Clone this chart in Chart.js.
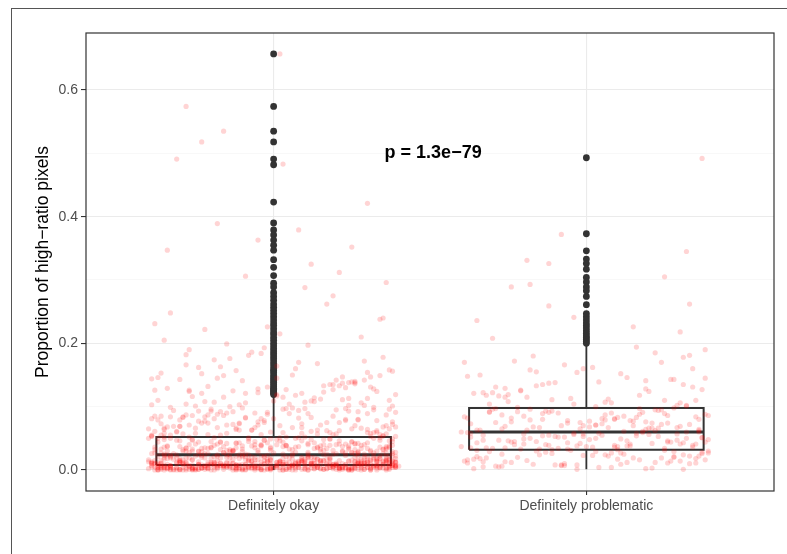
<!DOCTYPE html>
<html>
<head>
<meta charset="utf-8">
<script src="https://cdn.jsdelivr.net/npm/chart.js@4/dist/chart.umd.min.js"></script>
<style>
    html, body { margin: 0; padding: 0; background: #fff; }
    #wrap { position: relative; width: 787px; height: 554px; overflow: hidden; }
    #frame { position: absolute; left: 11px; top: 8px; right: -2px; bottom: -2px; border-left: 1px solid #555; border-top: 1px solid #555; }
    canvas { position: absolute; left: 0; top: 0; }
</style>
</head>
<body>
<div id="wrap">
    <div id="frame"></div>
    <canvas id="grafico" width="787" height="554"></canvas>
</div>
<script>
const categorias = ['Definitely okay', 'Definitely problematic'];

const yTicks = [0, 0.1, 0.2, 0.3, 0.4, 0.5, 0.6];
const yTickLabels = ['0.0', '', '0.2', '', '0.4', '', '0.6'];

// box stats per category
const boxQ1 = [0.008, 0.032];
const boxMediana = [0.024, 0.060];
const boxQ3 = [0.052, 0.098];
const whiskerMin = [0.000, 0.001];
const whiskerMax = [0.117, 0.197];

const okayOutliers = [0.657, 0.574, 0.535, 0.518, 0.491, 0.482, 0.423, 0.390, 0.379, 0.371, 0.363, 0.355, 0.347, 0.332, 0.320, 0.307, 0.295, 0.289, 0.280, 0.274, 0.268, 0.262, 0.257, 0.252, 0.247, 0.242, 0.237, 0.232, 0.228, 0.223, 0.218, 0.214, 0.209, 0.205, 0.200, 0.196, 0.192, 0.188, 0.184, 0.180, 0.176, 0.172, 0.168, 0.164, 0.160, 0.157, 0.154, 0.150, 0.147, 0.144, 0.141, 0.138, 0.135, 0.132, 0.129, 0.127, 0.125, 0.123, 0.121, 0.119];
const problematicOutliers = [0.493, 0.373, 0.346, 0.333, 0.326, 0.317, 0.304, 0.297, 0.289, 0.283, 0.274, 0.261, 0.247, 0.242, 0.237, 0.232, 0.228, 0.224, 0.220, 0.216, 0.212, 0.209, 0.206, 0.203, 0.200];

// jittered points: values in thousandths, horizontal jitter in hundredths of a category
const okayJitterY = [
    0,3,1,6,2,8,4,0,7,5,1,3,6,2,0,8,4,7,1,5,
    2,6,0,4,8,3,1,7,5,2,0,6,3,8,1,4,7,2,5,0,
    4,1,7,3,6,0,8,2,5,1,3,7,0,6,4,2,8,5,1,3,
    6,0,2,5,7,1,4,8,3,0,6,2,7,4,1,5,3,8,0,2,
    7,4,1,6,3,0,5,8,2,4,1,7,3,6,0,5,2,8,4,1,
    3,5,0,7,2,6,1,4,8,3,
    9,15,11,22,13,18,10,24,16,12,20,9,14,23,17,11,19,8,21,13,
    16,10,22,14,19,12,24,9,17,11,20,15,23,10,18,13,21,8,16,12,
    14,19,9,23,11,17,22,13,20,10,15,24,12,18,9,21,14,16,11,19,
    22,8,17,13,20,10,15,23,12,18,9,14,21,11,16,24,13,19,10,17,
    20,12,15,9,22,14,18,11,23,16,13,19,10,21,8,17,12,24,15,11,
    27,41,33,49,25,38,45,30,52,36,28,43,34,47,26,39,31,50,44,29,
    35,48,26,40,32,51,37,29,46,33,42,25,38,49,30,44,36,27,41,34,
    50,28,39,45,31,26,47,35,42,29,51,33,38,25,44,30,48,36,40,27,
    32,46,29,37,43,26,50,34,41,28,39,47,31,35,45,27,52,33,40,30,
    43,36,25,48,32,38,29,46,35,42,26,51,37,30,44,28,40,34,49,31,
    55,78,63,96,58,84,71,110,66,89,60,102,75,57,93,68,115,81,62,99,
    73,54,87,65,106,79,59,92,70,113,83,61,97,76,56,88,67,104,80,64,
    91,72,58,108,77,95,63,85,69,117,74,57,100,82,66,94,60,111,86,71,
    53,98,68,89,62,107,78,56,93,73,65,103,84,59,96,70,114,81,64,90,
    75,58,101,67,87,61,109,79,55,97,
    122,135,128,146,160,125,139,152,178,131,143,168,121,156,190,137,149,127,172,205,
    133,162,141,119,184,154,129,197,145,138,215,166,124,176,150,231,142,186,158,132,
    248,170,136,199,153,262,181,147,222,164,126,240,193,275,157,210,144,288,174,238,
    130,226,163,296,182,
    657,574,535,518,491,483,379,363,312,347,325,389,421,306,352,
    5,0,10,2,7,12,1,4,9,3,11,6,0,8,2,10,5,1,12,7,
    3,9,0,6,11,4,1,8,2,10,7,0,5,12,3,9,1,6,4,11,
    8,2,0,10,5,7,1,12,3,6,9,0,4,11,2,8,5,1,10,7,
    6,3,12,0,9,4,2,8,11,1,5,10,3,7,0,6,12,2,9,4,
    18,33,14,27,39,21,16,35,25,12,30,19,37,23,15,28,40,20,32,13,
    26,38,17,31,22,14,36,24,29,12,34,18,27,39,16,21,33,25,13,30,
    19,37,23,15,35,28,20,32,14,26,40,17,31,22,38,24,29,16,34,21
];
const okayJitterX = [
    -12,33,-37,5,21,-28,14,-3,38,-19,27,-8,-33,10,36,-24,1,-15,29,-39,
    17,-6,31,-26,8,-35,24,-11,39,-21,3,19,-31,12,-2,34,-17,26,-9,-38,
    22,-30,6,37,-14,28,-4,15,-36,9,-23,32,-1,-27,18,-10,35,-33,4,25,
    -16,11,-40,30,-7,20,-25,38,0,-20,13,-34,27,-5,16,-29,7,33,-13,23,
    -36,2,29,-18,36,-9,-31,14,-2,24,-22,39,-12,6,-37,19,-26,31,-4,10,
    35,-15,-28,21,-1,40,-33,8,-19,26,-7,15,-38,34,-24,3,22,-11,37,-30,
    9,-21,28,-35,17,-6,32,-16,4,-39,25,-13,11,36,-27,1,-8,30,-32,18,
    -3,38,-23,12,-34,27,-10,20,-29,5,33,-17,-1,23,-36,14,-25,39,-6,7,
    31,-14,2,-30,19,-37,26,-5,13,-22,37,-12,-35,8,29,-19,16,-2,-28,34,
    -9,24,-33,10,36,-24,-4,18,-39,28,-15,3,21,-29,39,-7,-20,12,32,-26,
    15,-1,-36,27,-11,6,33,-18,-30,20,0,-25,35,-8,11,-34,25,-14,4,37,
    -27,13,30,-3,-21,38,-13,7,-37,22,-6,16,-32,29,-17,2,36,-23,9,-10,
    26,-35,-7,18,-26,3,34,-16,23,-1,-40,11,28,-20,-5,38,-31,14,-12,31,
    -19,5,37,-9,25,-28,12,-38,1,32,-14,21,-24,8,-2,35,-33,17,-18,27,
    4,-26,19,-12,38,-36,10,24,-6,-29,30,-20,6,-35,26,-4,15,-30,36,-15,
    20,-8,-34,33,-17,7,-27,28,-1,16,-39,23,-11,3,31,-22,-5,37,-25,11,
    -31,29,-3,14,-24,39,-16,0,21,-33,9,35,-21,25,-9,-37,18,-13,2,30,
    12,-38,23,-5,34,-18,6,-28,27,-12,-2,38,-35,13,-22,32,-7,19,-30,1,
    -23,36,-14,8,28,-32,-1,22,-26,15,39,-10,-34,5,17,-19,33,-4,24,-36,
    37,-11,-29,3,-20,26,13,-39,30,-6,21,-15,-25,9,36,-31,0,27,-17,10,
    -5,18,32,-37,7,-13,25,-23,35,-2,-30,14,-9,38,-27,22,-16,4,29,-35,
    16,-24,-10,39,-4,30,-34,11,-18,24,2,-28,33,-14,6,-38,20,-7,37,-21,
    -33,8,26,-15,-36,17,-8,31,-22,1,-27,35,-3,19,-12,28,-39,10,-19,34,
    23,-2,-17,36,-28,2,-28,-16,-23,-31,3,8,-5,21,-34,12,-18,30,-9,25,
    14,-32,27,-7,38,-21,4,-37,19,-13,31,-2,-26,10,36,-17,22,-30,1,29,
    -11,35,-25,7,-39,18,-4,28,-18,12,-33,24,-8,39,-23,3,16,-35,30,-14,
    26,-1,-29,13,34,-16,-36,9,21,-27,37,-6,5,-31,17,-20,32,-10,-38,20,
    -6,31,-19,2,25,-34,15,-12,38,-24,8,-3,28,-37,11,33,-15,-28,23,0,
    36,-26,10,-38,18,-9,29,-22,3,34,-13,-33,22,6,-18,39,-4,13,-29,26,
    -22,4,33,-15,-3,27,-35,16,-10,37,-28,9,25,-19,-1,30,-36,19,7,-24,
    11,-16,38,-30,24,-5,-23,35,2,-39,20,-8,31,-12,15,-34,27,-1,-21,36
];
const okayExtraY = [
    1,14,6,19,3,11,0,17,8,13,4,20,2,9,16,5,12,0,18,7,
    10,3,15,1,19,6,13,0,8,17,4,11,2,20,9,14,5,16,0,12,
    7,18,3,10,1,15,6,19,2,13,8,0,16,4,11,20,5,9,14,1,
    17,6,12,0,19,3,10,15,7,2,18,8,13,4,0,11,16,6,20,9,
    2,14,5,17,0,12,8,19,3,15,10,1,13,6,18,4,9,16,7,11,
    22,47,35,58,28,41,53,25,38,50,31,44,57,23,36,49,29,42,55,33,
    46,21,39,52,27,45,59,32,40,24,54,37,48,26,43,56,30,51,34,60,
    23,41,55,29,47,36,58,25,44,32,50,38,21,53,35,46,27,57,40,31,
    49,24,42,56,33,45,28,52,37,22,59,39,26,48,34,54,30,43,51,36,
    64,92,71,118,83,101,67,135,77,109,88,62,126,95,73,142,81,104,69,113,
    98,66,131,85,75,121,91,63,147,79,107,86,70,124,97,65,138,82,112,74,
    93,68,128,80,103,61,116,89,72,145,84,106,67,121,96,78,133,87,63,110,
    99,71,127,83,115,66,140,90,76,108,94,69,123,81,149,74,102,85,119,92
];
const okayExtraX = [
    -25,8,37,-14,22,-39,3,31,-18,12,-7,26,-34,17,-2,39,-29,6,-11,33,
    29,-36,15,-4,34,-22,9,-31,20,-13,38,-1,-26,11,-37,24,-8,32,-19,4,
    -33,18,-6,27,-16,36,1,-28,13,-40,23,-10,30,-21,7,-35,19,-3,35,-24,
    10,-17,39,-30,5,-12,28,-38,16,-5,33,-23,2,-33,25,-15,37,-27,12,-9,
    24,-2,-37,14,31,-20,6,-31,21,-8,36,-26,10,-14,39,-35,3,18,-22,29,
    -4,34,-28,9,-16,26,-39,17,-10,32,-1,-24,20,-33,7,38,-13,27,-36,15,
    37,-19,4,-27,23,-6,30,-38,11,-15,35,-30,1,26,-11,19,-34,8,-23,33,
    -10,21,-33,38,-3,14,-25,29,-17,6,-37,24,-7,31,-20,2,36,-29,16,-13,
    18,-31,11,-21,36,-8,25,-35,3,-18,32,-4,27,-26,13,-39,22,-12,34,-1,
    -35,27,-15,7,-29,38,-6,19,-24,12,-2,33,-38,20,-11,29,-19,5,-32,24,
    6,-12,31,-36,17,-23,39,-7,22,-30,10,-16,36,-27,4,-40,26,-9,15,-21,
    -20,35,-5,23,-39,12,-26,30,-13,1,-33,28,-18,9,37,-3,21,-28,14,-37,
    32,-27,19,-9,3,-35,26,-15,38,-22,8,-30,16,-4,34,-11,24,-38,1,-17
];
const okayLowY = [
    2,0,9,4,13,1,6,11,3,15,0,7,10,5,14,2,8,12,1,16,
    4,11,0,6,13,3,9,15,1,7,12,5,0,10,14,2,8,16,4,11,
    6,1,13,3,9,0,15,7,12,2,10,5,14,1,8,16,3,11,6,0,
    13,4,9,2,15,7,0,12,5,10,1,14,3,8,16,6,11,0,9,4,
    12,2,7,15,1,10,5,13,3,0,8,14,6,11,2,16,4,9,1,7
];
const okayLowX = [
    19,-35,4,-22,30,-9,37,-28,12,-3,25,-39,8,-16,33,-25,1,-31,22,-6,
    -18,28,-37,10,-2,34,-24,16,-12,39,-30,5,24,-20,-8,31,-35,13,-1,27,
    3,-27,36,-14,20,-33,9,-5,29,-21,15,-38,38,-11,6,-26,21,-17,32,-4,
    -30,14,-10,25,-36,1,33,-19,11,-29,37,-7,-23,18,-40,26,-13,7,-34,23,
    30,-1,-21,9,-32,17,-15,35,-6,21,-26,2,28,-37,13,-9,39,-24,5,-12
];

const problematicJitterY = [
    3,18,27,9,22,31,14,6,25,11,29,1,20,16,8,30,13,24,5,19,
    28,10,23,2,17,32,12,26,7,21,15,4,29,19,11,24,8,31,14,27,
    6,22,16,26,12,
    35,48,41,57,38,52,44,33,59,46,39,54,36,50,43,58,34,47,40,55,
    37,53,45,60,42,49,34,56,39,51,47,36,58,44,33,52,41,55,38,50,
    46,57,35,43,53,
    64,82,71,95,67,88,76,61,91,79,69,85,74,97,63,80,72,93,66,87,
    77,62,90,70,84,98,68,81,75,94,65,89,73,83,60,92,78,70,86,96,
    67,80,74,63,91,
    104,131,115,162,108,146,121,185,111,139,127,172,102,154,118,194,133,110,166,124,
    148,106,178,137,117,158,100,143,129,190,113,152,122,170,135,107,181,126,160,141,
    208,226,241,259,289,293,326,331,262,218,345,236,305,372,492
];
const problematicJitterX = [
    21,-34,8,-17,36,-5,27,-29,12,-38,3,31,-22,17,-10,39,-26,6,-33,24,
    -13,33,-1,19,-36,10,-24,37,-8,28,-19,4,-31,15,35,-15,-3,25,-39,11,
    -27,7,38,-11,22,-32,1,30,-20,13,-37,26,-6,18,-25,34,-14,2,32,-35,
    16,-9,29,-23,5,-40,23,-16,36,-2,11,-30,20,-12,37,-28,9,-4,27,-21,
    -7,35,-33,14,-18,26,-1,-26,31,-10,19,-38,3,24,-15,38,-24,12,-31,6,
    30,-20,-6,17,-35,9,33,-13,21,-27,1,36,-9,15,-39,28,-17,5,-29,23,
    -2,25,-37,10,32,-22,14,-8,39,-30,7,-14,26,-34,18,-4,34,-19,2,-25,
    13,-36,22,-11,4,37,-23,29,-3,-32,16,-16,35,-7,20,-38,8,31,-12,-28,
    -18,3,28,-26,38,-5,11,-33,24,-14,6,33,-21,-1,19,
    -30,15,-4,-12,-24,-18,-12,-19,33,30,32,-35,25,-8,37
];
const problematicExtraY = [
    5,41,78,22,63,110,35,90,14,55,128,47,71,28,99,9,60,143,38,83,
    18,52,104,66,30,87,44,119,12,75,57,2,95,40,68,160,25,81,49,135,
    33,72,16,58,101,45,88,7,64,122,37,79,20,53,150,42,93,27,69,112,
    11,56,85,31,74,180,48,97,23,61,138,36,82,4,59,106,43,77,19,66,
    125,51,91,29,70,13,54,115,39,84,8,62,170,46,96,24,73,131,34,89,
    17,58,102,41,76,1,65,145,32,86,21,50,118,44,80,10,67,155,37,92
];
const problematicExtraX = [
    -28,14,-6,33,-19,25,-37,8,30,-12,19,-33,3,37,-22,11,-40,27,-3,16,
    35,-9,-31,20,-16,6,38,-25,13,-2,29,-36,22,-13,1,34,-27,9,-20,31,
    -15,24,-38,4,32,-23,17,-7,36,-30,10,-18,28,-1,-34,21,-11,39,-26,7,
    26,-4,12,-35,21,-17,39,-29,2,18,-10,34,-24,8,-38,30,-6,15,-32,23,
    -21,37,-12,28,-1,-33,16,-26,9,35,-8,22,-39,13,-18,31,5,-29,25,-14,
    10,-37,32,-20,19,-3,-27,38,-11,26,-35,3,17,-24,36,-7,29,-16,0,-31
];

const pTexto = 'p = 1.3e\u221279';
const pPosX = 1.51;
const pPosY = 0.5;

const fonteBase = '"Liberation Sans", Arial, Helvetica, sans-serif';
const corCaixa = '#333333';
const corJitter = 'rgba(255, 0, 0, 0.17)';
const meiaLargura = 0.375;

const montarJitter = (ys, xs, cat) => ys.map((v, i) => ({ x: cat + xs[i] / 100, y: v / 1000 }));

const montarCaixas = () => {
    const pts = [];
    categorias.forEach((c, i) => {
        const x = i + 1;
        const l = x - meiaLargura;
        const r = x + meiaLargura;
        pts.push({ x: l, y: boxQ1[i] }, { x: r, y: boxQ1[i] }, { x: r, y: boxQ3[i] }, { x: l, y: boxQ3[i] }, { x: l, y: boxQ1[i] }, { x: l, y: null });
    });
    return pts;
};

const montarMedianas = () => {
    const pts = [];
    categorias.forEach((c, i) => {
        const x = i + 1;
        pts.push({ x: x - meiaLargura, y: boxMediana[i] }, { x: x + meiaLargura, y: boxMediana[i] }, { x: x, y: null });
    });
    return pts;
};

const montarBigodes = () => {
    const pts = [];
    categorias.forEach((c, i) => {
        const x = i + 1;
        pts.push({ x: x, y: whiskerMin[i] }, { x: x, y: boxQ1[i] }, { x: x, y: null });
        pts.push({ x: x, y: boxQ3[i] }, { x: x, y: whiskerMax[i] }, { x: x, y: null });
    });
    return pts;
};

const outliersPontos = [
    ...okayOutliers.map((v) => ({ x: 1, y: v })),
    ...problematicOutliers.map((v) => ({ x: 2, y: v }))
];

const pluginPainel = {
    id: 'pluginPainel',
    afterDatasetsDraw(chart) {
        const { ctx, chartArea, scales } = chart;
        ctx.save();
        ctx.strokeStyle = corCaixa;
        ctx.lineWidth = 1.2;
        ctx.strokeRect(chartArea.left, chartArea.top, chartArea.right - chartArea.left, chartArea.bottom - chartArea.top);

        ctx.fillStyle = '#000';
        ctx.font = 'bold 18px ' + fonteBase;
        ctx.textAlign = 'center';
        ctx.textBaseline = 'middle';
        ctx.fillText(pTexto, scales.x.getPixelForValue(pPosX), scales.y.getPixelForValue(pPosY));
        ctx.restore();
    }
};

const linhaBase = {
    type: 'line',
    borderColor: corCaixa,
    pointRadius: 0,
    fill: false,
    tension: 0,
    spanGaps: false,
    borderJoinStyle: 'miter',
    borderCapStyle: 'butt'
};

const jitterBase = {
    backgroundColor: corJitter,
    borderWidth: 0,
    pointRadius: 2.6
};

const pontosOkay = montarJitter(okayJitterY, okayJitterX, 1)
    .concat(montarJitter(okayExtraY, okayExtraX, 1))
    .concat(montarJitter(okayLowY, okayLowX, 1));
const pontosProblematic = montarJitter(problematicJitterY, problematicJitterX, 2)
    .concat(montarJitter(problematicExtraY, problematicExtraX, 2));

const chartBoxplot = new Chart(document.getElementById('grafico'), {
    type: 'scatter',
    data: {
        datasets: [
            Object.assign({}, jitterBase, { data: pontosOkay }),
            Object.assign({}, jitterBase, { data: pontosProblematic }),
            {
                data: outliersPontos,
                backgroundColor: corCaixa,
                borderWidth: 0,
                pointRadius: 3.4
            },
            Object.assign({}, linhaBase, { data: montarMedianas(), borderWidth: 3 }),
            Object.assign({}, linhaBase, { data: montarCaixas(), borderWidth: 2 }),
            Object.assign({}, linhaBase, { data: montarBigodes(), borderWidth: 1.8 })
        ]
    },
    options: {
        responsive: false,
        animation: false,
        devicePixelRatio: 1,
        events: [],
        layout: { padding: { left: 0, top: 33, right: 13, bottom: 0 } },
        plugins: { legend: { display: false }, tooltip: { enabled: false } },
        scales: {
            x: {
                type: 'linear',
                min: 0.4,
                max: 2.6,
                afterBuildTicks: (scale) => {
                    scale.ticks = categorias.map((c, i) => ({ value: i + 1 }));
                },
                afterFit: (scale) => { scale.height = 63; },
                border: { display: false },
                grid: { color: '#ebebeb', lineWidth: 1.1, tickColor: corCaixa, tickLength: 4 },
                ticks: {
                    padding: 3,
                    color: '#4d4d4d',
                    font: { family: fonteBase, size: 14 },
                    maxRotation: 0,
                    callback: (v) => categorias[Math.round(v) - 1] || ''
                }
            },
            y: {
                type: 'linear',
                min: -0.0332,
                max: 0.690,
                afterBuildTicks: (scale) => {
                    scale.ticks = yTicks.map((v) => ({ value: v }));
                },
                afterFit: (scale) => { scale.width = 86; },
                border: { display: false },
                grid: {
                    color: (ctx) => (ctx.index % 2 === 0 ? '#ebebeb' : '#f4f4f4'),
                    lineWidth: (ctx) => (ctx.index % 2 === 0 ? 1.1 : 0.6),
                    tickColor: (ctx) => (ctx.index % 2 === 0 ? corCaixa : 'rgba(0,0,0,0)'),
                    tickLength: 5
                },
                ticks: {
                    padding: 3,
                    color: '#4d4d4d',
                    font: { family: fonteBase, size: 14 },
                    callback: (v, i) => yTickLabels[i]
                },
                title: {
                    display: true,
                    text: 'Proportion of high\u2212ratio pixels',
                    color: '#000',
                    font: { family: fonteBase, size: 17.5 },
                    padding: { top: 32.5, bottom: 0 }
                }
            }
        }
    },
    plugins: [pluginPainel]
});
</script>
</body>
</html>
